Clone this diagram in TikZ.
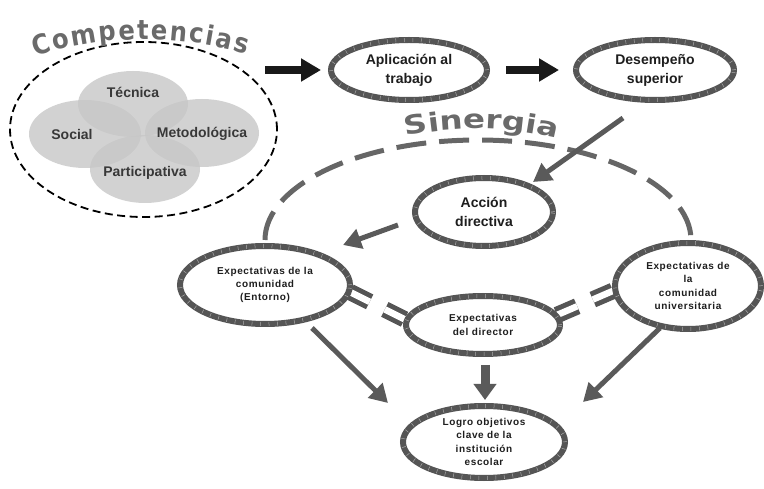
\documentclass[tikz,border=0pt]{standalone}
\usepackage{fontspec}
\setmainfont{Liberation Sans}
\newfontfamily\compfont[FakeStretch=0.9]{DejaVu Sans}
\newfontfamily\sinfont[FakeStretch=1.25]{DejaVu Sans}
\usetikzlibrary{shapes.geometric,arrows.meta,decorations.text}
\definecolor{bord}{HTML}{555555}
\definecolor{tickc}{HTML}{A8A8A8}
\definecolor{titg}{HTML}{6A6A6A}
\definecolor{arrg}{HTML}{5A5A5A}
\definecolor{txtc}{HTML}{1E1E1E}
\definecolor{circtxt}{HTML}{383838}
\tikzset{
  oval/.style={ellipse, draw=bord, line width=6pt, fill=white, inner sep=0pt, align=center,
    font=\bfseries\fontsize{14}{19}\selectfont, text=txtc,
    postaction={draw=tickc, line width=4pt, dash pattern=on 0.5pt off 8pt}},
  smalltxt/.style={font=\bfseries\fontsize{10}{13.3}\selectfont\addfontfeature{LetterSpace=6}},
  circ/.style={ellipse, fill=black!22, fill opacity=0.8, inner sep=0pt},
  circlabel/.style={font=\bfseries\fontsize{14}{16}\selectfont, text=circtxt},
  blackarrow/.style={draw=black!90, line width=8pt, -{Triangle[length=20pt,width=22pt]}},
  grayarrow/.style={draw=arrg, line width=5pt, -{Triangle[length=18pt,width=20pt]}},
  eqbar/.style={draw=bord, line width=5pt, double=white, double distance=6.5pt, dash pattern=on 22pt off 17pt},
  synarc/.style={draw=black!60, line width=5pt, dash pattern=on 30pt off 13pt},
}
\begin{document}
\begin{tikzpicture}[x=1pt,y=-1pt]
\useasboundingbox (0,0) rectangle (764,489);
% Competencias group
\node[circ, minimum width=110, minimum height=66] (tec) at (133,104) {};
\node[circ, minimum width=112, minimum height=68] (soc) at (85,134) {};
\node[circ, minimum width=114, minimum height=68] (met) at (202,133) {};
\node[circ, minimum width=110, minimum height=68] (par) at (145,169) {};
\node[circlabel] at (133,92) {Técnica};
\node[circlabel] at (72,134) {Social};
\node[circlabel] at (202,134) {Metodológica};
\node[circlabel] at (145,173) {Participativa};
\node[ellipse, draw=black, line width=1.8pt, dash pattern=on 8pt off 4.5pt, minimum width=267, minimum height=175, inner sep=0pt] (comp) at (143.5,129.5) {};
\path[decorate, decoration={text along path, text align={fit to path},
  text={|\compfont\bfseries\fontsize{27}{27}\selectfont|Competencias}, text color=titg}]
  (36,57) .. controls (100,34) and (180,34) .. (246,54);
% Sinergia arc and title
\draw[synarc] (265,240) arc[start angle=180, end angle=360, x radius=213, y radius=100];
\path[decorate, decoration={text along path, text align={fit to path},
  text={|\sinfont\bfseries\fontsize{26}{26}\selectfont|Sinergia}, text color=titg}]
  (406,136) .. controls (455,126) and (505,126) .. (554,138);
% nodes
\node[oval, minimum width=156, minimum height=60] (aplic) at (409,70) {Aplicación al\\trabajo};
\node[oval, minimum width=158, minimum height=60] (desem) at (655,70) {Desempeño\\superior};
\node[oval, minimum width=138, minimum height=68] (accion) at (484,212) {Acción\\directiva};
\coordinate (comc) at (265,285);
\coordinate (dirc) at (483,325);
\coordinate (univc) at (688,286);
% equal-sign bars
\draw[eqbar] ([shift={(85,7)}]comc) -- ([shift={(-77,-5)}]dirc);
\draw[eqbar] ([shift={(74,-10)}]dirc) -- ([shift={(-73,4)}]univc);
\node[oval, smalltxt, minimum width=170, minimum height=78] (comm) at (comc) {Expectativas de la\\comunidad\\(Entorno)};
\node[oval, smalltxt, minimum width=154, minimum height=58] (dir) at (dirc) {Expectativas\\del director};
\node[oval, smalltxt, minimum width=146, minimum height=86] (univ) at (univc) {Expectativas de\\la\\comunidad\\universitaria};
\node[oval, smalltxt, minimum width=162, minimum height=72] (logro) at (484,442) {Logro objetivos\\clave de la\\institución\\escolar};
% arrows
\draw[blackarrow] ([shift={(121.5,-59.5)}]comp.center) -- ([xshift=-7pt]aplic.west);
\draw[blackarrow] ([xshift=16pt]aplic.east) -- ([xshift=-14pt]desem.west);
\draw[grayarrow] ([shift={(-32,48)}]desem.center) -- ([shift={(49,-30)}]accion.center);
\draw[grayarrow] ([shift={(-86,13)}]accion.center) -- ([shift={(78,-40)}]comm.center);
\draw[grayarrow] ([shift={(47,43)}]comm.center) -- ([shift={(-96,-39)}]logro.center);
\draw[grayarrow, line width=9pt, -{Triangle[length=16pt,width=22pt]}] ([shift={(2,40)}]dir.center) -- ([shift={(1,-42)}]logro.center);
\draw[grayarrow] ([shift={(-28,42)}]univ.center) -- ([shift={(99,-40)}]logro.center);
\end{tikzpicture}
\end{document}
